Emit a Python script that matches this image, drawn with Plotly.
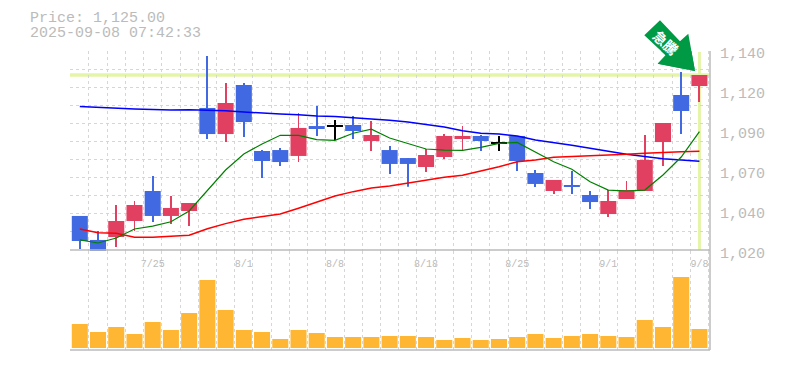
import plotly.graph_objects as go

# values
index = list(range(35))
tick_positions = [4, 9, 14, 19, 24, 29, 34]
tick_labels = ["7/25", "8/1", "8/8", "8/18", "8/25", "9/1", "9/8"]
price_ticks = [1140, 1115, 1090, 1065, 1040, 1015]
price_labels = ["1,140", "1,120", "1,090", "1,070", "1,040", "1,020"]

open_ = [1036.9, 1021.9, 1023.75, 1033.75, 1052.5, 1036.9, 1040.0, 1104.4, 1088.1, 1118.75,
         1077.5, 1078.1, 1074.4, 1093.1, 1093.4, 1093.75, 1083.75, 1078.1, 1073.1, 1067.5,
         1073.75, 1085.0, 1086.9, 1082.9, 1086.9, 1063.75, 1052.5, 1056.25, 1050.0, 1038.1,
         1047.5, 1052.5, 1083.1, 1112.5, 1118.1]
close_ = [1021.25, 1014.4, 1033.75, 1043.75, 1036.9, 1041.9, 1045.0, 1088.1, 1107.5, 1095.6,
          1071.25, 1070.6, 1091.9, 1091.25, 1092.7, 1090.0, 1087.5, 1069.4, 1069.4, 1075.0,
          1086.9, 1086.9, 1083.75, 1082.2, 1071.25, 1056.9, 1059.4, 1055.0, 1045.6, 1046.25,
          1053.1, 1071.9, 1095.0, 1102.5, 1125.0]
high_ = [1036.9, 1027.5, 1043.75, 1046.25, 1061.9, 1049.4, 1045.0, 1136.9, 1120.0, 1120.0,
         1078.1, 1079.4, 1101.25, 1105.6, 1096.9, 1099.4, 1096.25, 1080.6, 1073.1, 1078.75,
         1088.1, 1093.1, 1087.5, 1086.9, 1086.9, 1065.6, 1059.4, 1065.0, 1052.5, 1053.1,
         1058.75, 1087.5, 1095.0, 1126.9, 1125.0]
low_ = [1016.25, 1014.4, 1017.5, 1027.5, 1033.1, 1031.9, 1030.6, 1085.0, 1083.1, 1086.25,
        1060.6, 1068.1, 1070.6, 1086.9, 1084.4, 1085.0, 1077.5, 1063.1, 1055.2, 1064.4,
        1072.5, 1077.5, 1077.5, 1077.5, 1065.0, 1055.0, 1050.6, 1050.6, 1041.25, 1036.25,
        1047.5, 1052.5, 1068.1, 1088.1, 1108.1]
candle_colors = ["blue", "blue", "red", "red", "blue", "red", "red", "blue", "red", "blue",
                 "blue", "blue", "red", "blue", "black", "blue", "red", "blue", "blue", "red",
                 "red", "red", "blue", "black", "blue", "blue", "red", "blue", "blue", "red",
                 "red", "red", "red", "blue", "red"]
ma_long = [1105.3, 1104.7, 1104.06, 1103.75, 1103.4, 1103.1, 1103.3, 1103.0, 1102.7, 1101.9,
           1101.1, 1100.6, 1100.2, 1099.4, 1099.1, 1098.4, 1097.3, 1096.7, 1095.6, 1094.1,
           1092.5, 1090.2, 1088.6, 1088.1, 1086.9, 1084.4, 1082.9, 1081.1, 1079.2, 1077.1,
           1075.4, 1074.0, 1072.7, 1071.9, 1071.1]
ma_mid = [1028.75, 1026.4, 1026.06, 1023.6, 1023.6, 1024.2, 1024.8, 1028.9, 1032.1, 1034.8,
          1036.4, 1038.1, 1041.7, 1045.6, 1049.4, 1052.1, 1054.4, 1055.6, 1057.3, 1059.4,
          1061.1, 1062.3, 1064.8, 1067.7, 1070.8, 1071.9, 1073.6, 1074.0, 1074.4, 1074.8,
          1075.4, 1076.1, 1076.7, 1077.1, 1077.3]
ma_short = [1021.9, 1020.0, 1023.1, 1028.75, 1030.6, 1033.3, 1040.0, 1053.1, 1065.6, 1075.6,
            1081.9, 1087.3, 1087.3, 1084.6, 1084.2, 1088.6, 1091.1, 1085.6, 1082.3, 1078.75,
            1078.1, 1077.9, 1079.8, 1082.3, 1082.9, 1076.7, 1070.8, 1066.1, 1058.3, 1053.1,
            1052.5, 1053.1, 1062.5, 1073.75, 1089.6]
volume = [24, 16, 21, 14, 26, 18, 35, 68, 38, 18, 16, 9, 18, 15, 11, 11, 11, 12,
          12, 11, 8, 10, 8, 9, 11, 14, 10, 12, 14, 12, 11, 28, 21, 71, 19]

RED, BLUE, BLACK = "#e24060", "#4169e1", "#000000"
GRID = "#d6d6d6"
EDGE = "#bbbbbb"
HILITE = "#e4f5a8"
ARROW = "#009944"
color_map = {"red": RED, "blue": BLUE, "black": BLACK}
colors = [color_map[c] for c in candle_colors]
OFF = 8  # page margin of the browser
W, H = 785 - OFF, 370 - OFF
PL, PR, PT, PB = 70, 710, 51, 350
xrange = [-0.538, 34.58]
yrange = [1015, 1140]
arrow_outline = [(660, 20.3), (680, 41.3), (688.3, 33.7), (695, 71),
                 (657.7, 63.7), (665.7, 55.3), (644.3, 35.3)]


def px_x(v):
    return (v - PL) / (PR - PL)


def px_y(v):
    return (PB - v) / (PB - PT)


def data_x(v):
    return xrange[0] + px_x(v) * (xrange[1] - xrange[0])


def data_y(v):
    return yrange[1] - (v - PT) / (251 - PT) * (yrange[1] - yrange[0])


fig = go.Figure()
# the part of the arrow inside the plot area, so it covers the grid
fig.add_trace(go.Scatter(x=[data_x(p[0]) for p in arrow_outline] + [data_x(arrow_outline[0][0])],
                         y=[data_y(p[1]) for p in arrow_outline] + [data_y(arrow_outline[0][1])],
                         mode="lines", fill="toself", fillcolor=ARROW, line=dict(width=0, color=ARROW),
                         xaxis="x", yaxis="y", showlegend=False, hoverinfo="skip"))
for ma, col, lw in [(ma_long, "#0000ff", 1.5), (ma_mid, "#ff0000", 1.5), (ma_short, "#008000", 1.2)]:
    fig.add_trace(go.Scatter(x=index, y=ma, mode="lines", line=dict(color=col, width=lw),
                             xaxis="x", yaxis="y", showlegend=False, hoverinfo="skip"))
fig.add_trace(go.Bar(x=index, y=[h - l for h, l in zip(high_, low_)], base=low_, width=0.05,
                     marker=dict(color=colors, line=dict(width=0)), cliponaxis=False,
                     xaxis="x", yaxis="y", showlegend=False))
fig.add_trace(go.Bar(x=index, y=[abs(o - c) for o, c in zip(open_, close_)],
                     base=[min(o, c) for o, c in zip(open_, close_)], width=0.88,
                     marker=dict(color=colors, line=dict(width=0)), cliponaxis=False,
                     xaxis="x", yaxis="y", showlegend=False))
fig.add_trace(go.Bar(x=index, y=volume, width=0.88, marker=dict(color="#ffb733", line=dict(width=0)),
                     xaxis="x2", yaxis="y2", showlegend=False))

minor_x = dict(showgrid=True, gridcolor=GRID, griddash="3px,3px", gridwidth=1.2, tick0=-0.5, dtick=1, ticks="")
fig.update_layout(
    width=W, height=H, paper_bgcolor="white", plot_bgcolor="white", barmode="overlay",
    margin=dict(l=PL - OFF, r=W - (PR - OFF), t=PT - OFF, b=H - (PB - OFF), autoexpand=False),
    font=dict(family="Liberation Mono", color=EDGE, size=15),
    xaxis=dict(domain=[0, 1], anchor="y", range=xrange, tickmode="array", tickvals=tick_positions,
               ticktext=tick_labels, tickfont=dict(size=10, color=EDGE), showgrid=False, ticks="",
               ticklabelstandoff=5, zeroline=False, minor=minor_x, showline=False),
    yaxis=dict(domain=[(PB - 251) / (PB - PT), 1], anchor="x", side="right", range=yrange,
               tickmode="array", tickvals=price_ticks, ticktext=price_labels,
               tickfont=dict(size=15, color=EDGE), showgrid=False, ticks="", zeroline=False,
               ticklabelstandoff=9, ticklabelshift=2,
               minor=dict(showgrid=True, gridcolor=GRID, griddash="3px,3px", gridwidth=1.2,
                          tick0=1140, dtick=11.31, ticks="")),
    xaxis2=dict(domain=[0, 1], anchor="y2", range=xrange, showticklabels=False, showgrid=False,
                ticks="", zeroline=False, minor=minor_x, showline=False),
    yaxis2=dict(domain=[0, 99 / (PB - PT)], anchor="x2", range=[-2, 97], showticklabels=False,
                showgrid=False, ticks="", zeroline=False),
    shapes=[
        dict(type="line", xref="paper", yref="y", x0=0, x1=1, y0=1125, y1=1125,
             line=dict(color=HILITE, width=3.5), layer="below"),
        dict(type="line", xref="x", yref="paper", x0=34, x1=34, y0=px_y(250), y1=px_y(52),
             line=dict(color=HILITE, width=3), layer="below"),
        dict(type="line", xref="paper", yref="paper", x0=0, x1=1, y0=px_y(250), y1=px_y(250),
             line=dict(color=EDGE, width=1.5)),
        dict(type="line", xref="paper", yref="paper", x0=0, x1=1, y0=px_y(350), y1=px_y(350),
             line=dict(color=EDGE, width=1.5)),
        dict(type="line", xref="paper", yref="paper", x0=1, x1=1, y0=px_y(350), y1=px_y(51),
             line=dict(color=EDGE, width=1.5)),
        dict(type="path", xref="paper", yref="paper", fillcolor=ARROW, line=dict(width=0),
             layer="below",
             path="M " + " L ".join(f"{px_x(x):.5f},{px_y(y):.5f}" for x, y in arrow_outline) + " Z"),
    ],
    annotations=[
        dict(text="Price: 1,125.00", xref="paper", yref="paper", x=px_x(28), y=px_y(18),
             xanchor="left", yanchor="middle", showarrow=False,
             font=dict(size=15, color=EDGE, family="Liberation Mono")),
        dict(text="2025-09-08 07:42:33", xref="paper", yref="paper", x=px_x(28), y=px_y(33),
             xanchor="left", yanchor="middle", showarrow=False,
             font=dict(size=15, color=EDGE, family="Liberation Mono")),
        dict(text="<b>急騰</b>", xref="paper", yref="paper", x=px_x(665.5), y=px_y(42),
             xanchor="center", yanchor="middle", showarrow=False, textangle=42,
             font=dict(size=14, color="#ffffff", family="Noto Sans CJK JP")),
    ],
)
fig.write_html("out.html")
